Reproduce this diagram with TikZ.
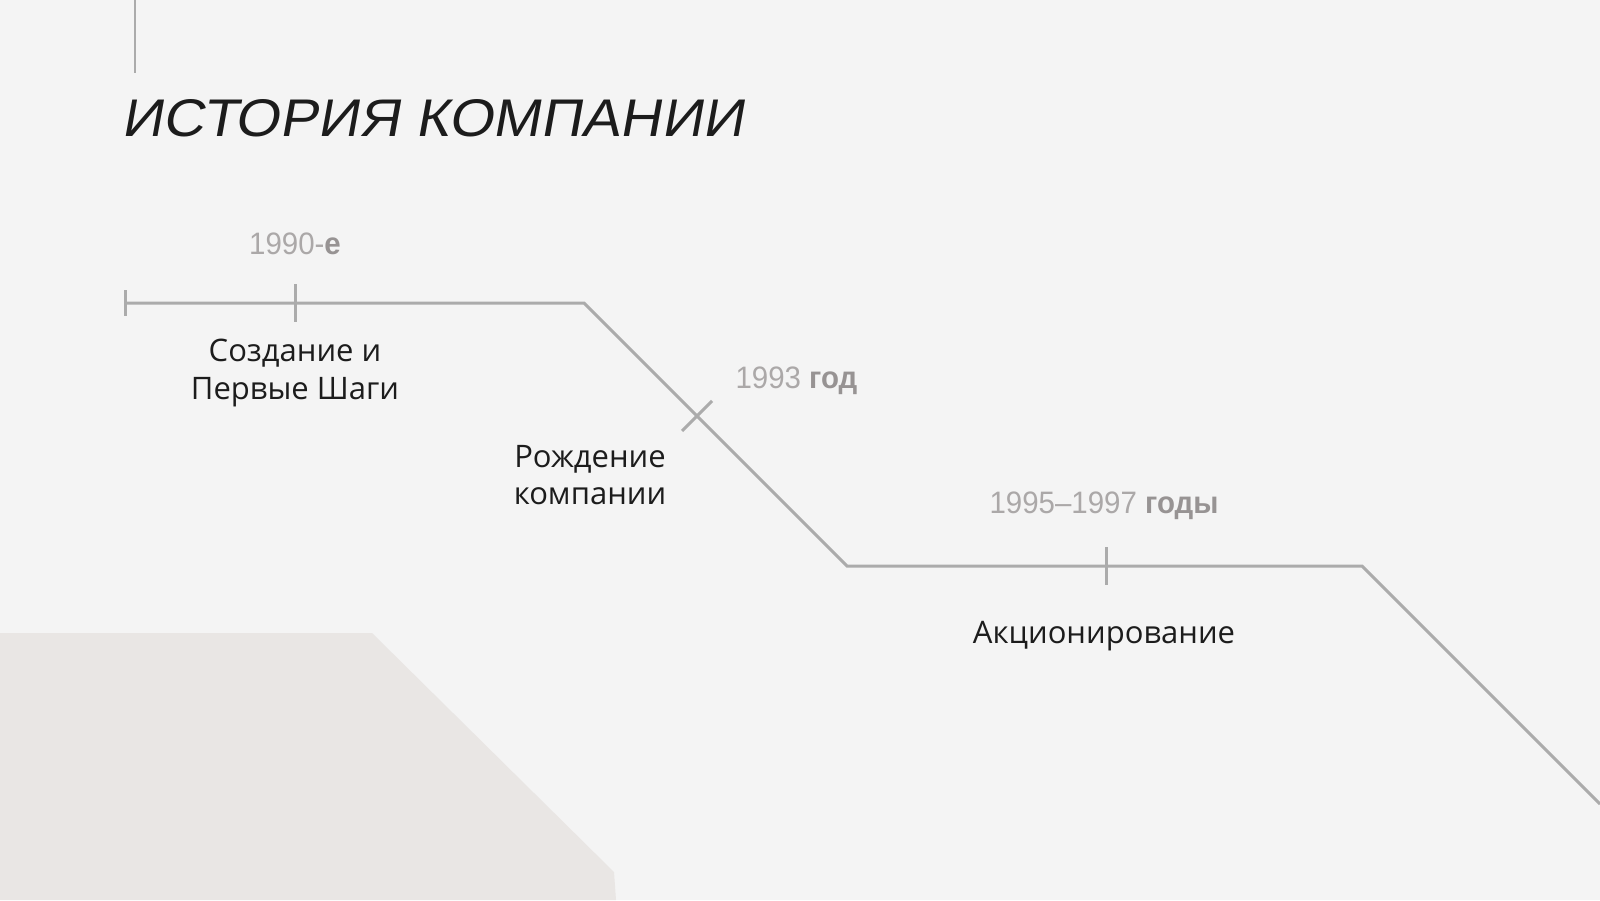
\documentclass[tikz,border=0pt]{standalone}
\usepackage{fontspec}
\setmainfont{Open Sans}
\newfontfamily\titlefont[FakeSlant=0.18,FakeStretch=1.08]{Liberation Sans}
\newfontfamily\yearfont[FakeStretch=0.95]{Liberation Sans}
\definecolor{bgcol}{HTML}{F4F4F4}
\definecolor{shapecol}{HTML}{E9E6E4}
\definecolor{linecol}{HTML}{ABABAB}
\definecolor{yearcol}{HTML}{ABA8A8}
\definecolor{yearbold}{HTML}{979393}
\definecolor{textcol}{HTML}{1C1C1C}

\begin{document}
\begin{tikzpicture}[x=1pt,y=-1pt,
	tl/.style={draw=linecol, line width=3pt},
	evtext/.style={text=textcol, font=\fontsize{31}{37.5}\selectfont, align=center},
	yeartext/.style={text=yearcol, font=\yearfont\fontsize{31}{37}\selectfont}]
	% BACKGROUND
	\useasboundingbox[fill=bgcol] (0,0) rectangle (1600,900);
	\fill[shapecol] (0,633) -- (372,633) -- (614,872) -- (616,900) -- (0,900) -- cycle;
	\draw[tl, line width=2pt] (135,0) -- (135,73);
	
	% TITLE
	\node[anchor=base west, text=textcol, font=\titlefont\fontsize{53}{60}\selectfont] (title) at (118,136) {ИСТОРИЯ КОМПАНИИ};
	
	% TIMELINE
	\coordinate (s) at (125,303);
	\coordinate (t1) at (295,303);
	\coordinate (b1) at (584,303);
	\coordinate (t2) at (697,416);
	\coordinate (b2) at (847,566);
	\coordinate (t3) at (1106,566);
	\coordinate (b3) at (1362,566);
	\coordinate (e) at (1600,804);
	\draw[tl] (s) -- (t1) -- (b1) -- (t2) -- (b2) -- (t3) -- (b3) -- (e);
	\draw[tl] ([yshift=13]s) -- ([yshift=-13]s);
	\draw[tl] ([yshift=19]t1) -- ([yshift=-19]t1);
	\draw[tl] ([shift={(-15,15)}]t2) -- ([shift={(15,-15)}]t2);
	\draw[tl] ([yshift=19]t3) -- ([yshift=-19]t3);
	
	% LABELS
	\node[yeartext] (y1) at (295,244) {1990-\textcolor{yearbold}{\textbf{е}}};
	\node[evtext] (e1) at (295,373) {Создание и\\Первые Шаги};
	\node[yeartext, anchor=west] (y2) at (732,381) {1993 \textcolor{yearbold}{\textbf{год}}};
	\node[evtext] (e2) at (590,475) {Рождение\\компании};
	\node[yeartext] (y3) at (1104,506) {1995–1997 \textcolor{yearbold}{\textbf{годы}}};
	\node[evtext] (e3) at (1104,636) {Акционирование};
\end{tikzpicture}
\end{document}
